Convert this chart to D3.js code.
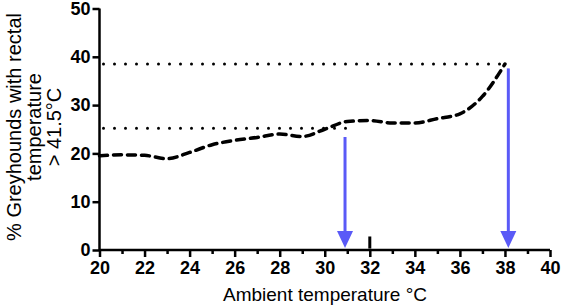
<!DOCTYPE html>
<html>
<head>
<meta charset="utf-8">
<script src="https://cdn.jsdelivr.net/npm/d3@7"></script>
<style>
  body { margin: 0; background: #fff; }
  text { font-family: "Liberation Sans", Arial, sans-serif; }
</style>
</head>
<body>
<svg id="chart"></svg>
<script>
// ambient temperature (°C) and % greyhounds above 41.5°C
var temps = [20, 21, 22, 23, 24, 25, 26, 27, 28, 29, 30, 31, 32, 33, 34, 35, 36, 37, 38];
var percents = [19.5, 19.7, 19.6, 18.9, 20.2, 21.8, 22.7, 23.3, 24.0, 23.5, 25.0, 26.6, 26.8, 26.3, 26.3, 27.2, 28.2, 31.8, 38.5];

// dotted reference levels: [level, end temperature]
var refLevels = [[38.5, 38], [25.2, 31]];
// blue arrows: [temperature, top value]
var arrows = [[30.9, 23.4], [38.15, 37.6]];
var marker = [32, 0.3, 2.8];

var xTicks = [20, 22, 24, 26, 28, 30, 32, 34, 36, 38, 40];
var xMinor = [21, 23, 25, 27, 29, 31, 33, 35, 37, 39];
var yTicks = [0, 10, 20, 30, 40, 50];

var width = 561, height = 307;
var svg = d3.select('#chart').attr('width', width).attr('height', height);

var x = d3.scaleLinear().domain([20, 40]).range([99.5, 550]);
var y = d3.scaleLinear().domain([0, 50]).range([250, 8.5]);

var black = '#000';
var blue = '#5a5af7';

// dotted lines
refLevels.forEach(function (r) {
    svg.append('line')
        .attr('x1', x(20) + 4).attr('x2', x(r[1]))
        .attr('y1', y(r[0])).attr('y2', y(r[0]))
        .style('stroke', black)
        .style('stroke-width', 3)
        .style('stroke-linecap', 'round')
        .style('stroke-dasharray', '0 11');
});

// dashed curve
var line = d3.line()
    .x(function (d, i) { return x(temps[i]); })
    .y(function (d) { return y(d); })
    .curve(d3.curveMonotoneX);

svg.append('path')
    .datum(percents)
    .attr('d', line)
    .style('fill', 'none')
    .style('stroke', black)
    .style('stroke-width', 3.5)
    .style('stroke-linecap', 'round')
    .style('stroke-dasharray', '8 6');

// arrows
arrows.forEach(function (a) {
    var ax = x(a[0]);
    var tip = y(0) - 2;
    svg.append('line')
        .attr('x1', ax).attr('x2', ax)
        .attr('y1', y(a[1])).attr('y2', tip - 14)
        .style('stroke', blue)
        .style('stroke-width', 3);
    svg.append('path')
        .attr('d', 'M' + (ax - 8) + ',' + (tip - 17) + 'L' + (ax + 8) + ',' + (tip - 17) + 'L' + ax + ',' + tip + 'Z')
        .style('fill', blue);
});

// small marker at 32
svg.append('line')
    .attr('x1', x(marker[0])).attr('x2', x(marker[0]))
    .attr('y1', y(marker[1])).attr('y2', y(marker[2]))
    .style('stroke', black)
    .style('stroke-width', 3);

// axes
var yAxis = svg.append('g')
    .attr('transform', 'translate(' + x(20) + ',0)')
    .call(d3.axisLeft(y).tickValues(yTicks).tickSize(7).tickPadding(2));

var xAxis = svg.append('g')
    .attr('transform', 'translate(0,' + y(0) + ')')
    .call(d3.axisBottom(x).tickValues(xTicks).tickSize(7).tickPadding(4));

svg.append('g')
    .attr('transform', 'translate(0,' + y(0) + ')')
    .call(d3.axisBottom(x).tickValues(xMinor).tickSize(4).tickFormat(''))
    .select('.domain').remove();

svg.selectAll('.domain').style('stroke-width', 2.5);
svg.selectAll('.tick line').style('stroke-width', 2.5);
[yAxis, xAxis].forEach(function (g) {
    g.select('.domain').attr('d', g === yAxis
        ? 'M0,' + y(50) + 'V' + y(0)
        : 'M' + x(20) + ',0H' + x(40));
    g.selectAll('.tick text')
        .style('font-size', '18px')
        .style('font-weight', 'bold')
        .style('font-family', '"Liberation Sans", Arial, sans-serif')
        .attr('fill', black);
});

// axis titles
svg.append('text')
    .attr('x', 325).attr('y', 301)
    .attr('text-anchor', 'middle')
    .style('font-size', '19px')
    .text('Ambient temperature °C');

var yTitle = ['% Greyhounds with rectal', 'temperature', '> 41.5°C'];
var yt = svg.append('text')
    .attr('transform', 'translate(21,127) rotate(-90)')
    .attr('text-anchor', 'middle')
    .style('font-size', '20px');
yTitle.forEach(function (t, i) {
    yt.append('tspan').attr('x', 0).attr('dy', i === 0 ? 0 : 20).text(t);
});
</script>
</body>
</html>
